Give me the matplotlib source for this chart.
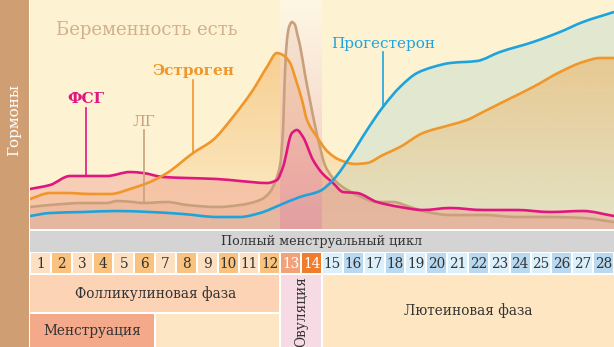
import numpy as np
import matplotlib
matplotlib.use("Agg")
import matplotlib.pyplot as plt
import matplotlib.colors as mcolors
from matplotlib.patches import Rectangle, PathPatch
from matplotlib.path import Path

plt.rcParams['font.family'] = ['DejaVu Serif']

# ---------------- data (x = cycle day position 0..28, y = relative level) -------------
fsh_x = [0.00, 0.96, 1.92, 2.73, 3.69, 4.79, 5.42, 6.38, 7.53, 8.97, 10.07, 11.36, 11.84,
         12.13, 12.56, 12.80, 13.09, 13.57, 14.00, 14.53, 15.01, 15.68, 16.64, 17.74,
         18.84, 20.14, 21.72, 23.35, 24.93, 26.51, 28.00]
fsh_y = [40, 44, 53, 53, 53, 57, 56, 52, 51, 50, 48, 46, 49,
         62, 96, 99, 92, 69, 56, 46, 37, 36, 27, 22,
         19, 21, 19, 19, 17, 18, 13]

est_x = [0.00, 0.96, 1.77, 2.88, 3.84, 4.94, 5.75, 6.57, 7.82, 8.77, 9.73, 10.69, 11.36,
         11.84, 12.13, 12.47, 12.75, 13.04, 13.28, 13.76, 14.29, 14.86, 15.58, 16.16,
         16.92, 17.74, 18.84, 20.14, 20.95, 21.72, 22.87, 24.12, 25.41, 26.51, 27.33, 28.00]
est_y = [30, 36, 36, 35, 35, 41, 47, 56, 76, 89, 112, 139, 162,
         176, 174, 166, 149, 129, 109, 92, 77, 69, 65, 66,
         74, 82, 96, 104, 109, 117, 129, 142, 157, 167, 171, 171]

lh_x = [0.00, 0.96, 2.54, 3.69, 4.17, 4.94, 5.42, 6.57, 7.53, 8.97, 10.07, 11.03, 11.51,
        11.79, 11.99, 12.13, 12.18, 12.23, 12.32, 12.42, 12.56, 12.71, 12.80, 12.94,
        13.19, 13.42, 13.66, 13.90, 14.14, 14.48, 14.86, 15.68, 16.64, 17.40, 18.22,
        19.03, 20.14, 21.72, 23.35, 24.93, 26.51, 28.00]
lh_y = [22, 24, 26, 26, 28, 27, 26, 27, 24, 22, 24, 29, 37,
        49, 64, 99, 129, 159, 189, 202, 207, 204, 196, 184,
        154, 129, 104, 82, 64, 52, 44, 34, 27, 27, 22,
        17, 14, 14, 12, 12, 11, 7]

prg_x = [0.00, 0.96, 2.54, 4.17, 5.75, 7.34, 8.97, 10.07, 11.03, 11.99, 12.94, 13.90,
         14.53, 15.34, 16.16, 16.92, 17.74, 18.56, 19.32, 20.14, 21.43, 22.53, 24.12,
         25.41, 26.51, 28.00]
prg_y = [13, 16, 17, 18, 17, 15, 12, 12, 16, 24, 32, 38,
         49, 72, 99, 122, 142, 156, 162, 166, 168, 177, 187,
         197, 207, 217]

days = list(range(1, 29))
cycle_title = "Полный менструальный цикл"
phase_days = {"Фолликулиновая фаза": (1, 12), "Овуляция": (13, 14),
              "Лютеиновая фаза": (15, 28), "Менструация": (1, 6)}
pregnancy_label = "Беременность есть"
y_label = "Гормоны"

# ---------------- styles ----------------
C_FSH = '#e0177f'
C_EST = '#f0962a'
C_LH = '#c9a07c'
C_PRG = '#1ea3dc'
BG = '#fdf3d2'

W, H = 614, 347
fig = plt.figure(figsize=(W / 100, H / 100), dpi=100)
fig.patch.set_facecolor('white')

# left strip
fig.patches.append(Rectangle((0, 0), 29 / W, 1, transform=fig.transFigure,
                             facecolor='#cf9e72', edgecolor='none'))
fig.text(14 / W, 1 - 120 / H, y_label, rotation=90, color='white', fontsize=11,
         ha='center', va='center')

# ---------------- chart ----------------
ax = fig.add_axes([30 / W, (H - 229) / H, 584 / W, 229 / H])
ax.set_facecolor(BG)
for s in ax.spines.values():
    s.set_visible(False)
ax.set_xticks([]); ax.set_yticks([])
YMAX = 229
ax.set_xlim(0, 28)
ax.set_ylim(0, YMAX)


def bezier_parts(x, y):
    """Smooth Bezier path through the data points (monotone cubic tangents)."""
    x = np.asarray(x, float); y = np.asarray(y, float)
    h = np.diff(x); d = np.diff(y) / h
    n = len(x)
    m = np.zeros(n)
    m[0], m[-1] = d[0], d[-1]
    for k in range(1, n - 1):
        if d[k - 1] * d[k] <= 0:
            m[k] = 0.0
        else:
            w1 = 2 * h[k] + h[k - 1]
            w2 = h[k] + 2 * h[k - 1]
            m[k] = (w1 + w2) / (w1 / d[k - 1] + w2 / d[k])
    verts = [(x[0], y[0])]
    codes = [Path.MOVETO]
    for k in range(n - 1):
        dx = h[k] / 3
        verts += [(x[k] + dx, y[k] + m[k] * dx), (x[k + 1] - dx, y[k + 1] - m[k + 1] * dx),
                  (x[k + 1], y[k + 1])]
        codes += [Path.CURVE4] * 3
    return verts, codes


def curve_path(x, y):
    v, c = bezier_parts(x, y)
    return Path(v, c)


def area_path(x, y):
    v, c = bezier_parts(x, y)
    v = v + [(x[-1], 0), (x[0], 0), (x[0], y[0])]
    c = c + [Path.LINETO, Path.LINETO, Path.CLOSEPOLY]
    return Path(v, c)


def solid_fill(x, y, color, alpha, z):
    ax.add_patch(PathPatch(area_path(x, y), facecolor=color, alpha=alpha,
                           edgecolor='none', zorder=z))


def gradient_fill(x, y, color, a_top, a_bot, z):
    path = area_path(x, y)
    rgb = mcolors.to_rgb(color)
    img = np.zeros((256, 1, 4))
    img[:, :, :3] = rgb
    img[:, 0, 3] = np.linspace(a_top, a_bot, 256)
    im = ax.imshow(img, extent=[min(x), max(x), 0, YMAX], origin='upper',
                   aspect='auto', zorder=z, interpolation='bilinear')
    im.set_clip_path(path, transform=ax.transData)


def line(x, y, color, z, lw=1.9):
    ax.add_patch(PathPatch(curve_path(x, y), facecolor='none', edgecolor=color,
                           lw=lw, zorder=z, capstyle='round', joinstyle='round'))


solid_fill(prg_x, prg_y, '#a9d3cc', 0.32, 1)
gradient_fill(est_x, est_y, '#f0a040', 0.55, 0.08, 2)
solid_fill(lh_x, lh_y, '#d9a77f', 0.28, 3)
solid_fill(fsh_x, fsh_y, '#ee8f88', 0.38, 4)

# ovulation band overlay
ov0, ov1 = phase_days["Овуляция"]
band = np.zeros((256, 1, 4))
top = np.array(mcolors.to_rgb('#ffffff'))
bot = np.array(mcolors.to_rgb('#e07aa0'))
t = np.linspace(0, 1, 256)[:, None]
band[:, 0, :3] = top * (1 - t) + bot * t
band[:, 0, 3] = np.linspace(0.38, 0.4, 256)
ax.imshow(band, extent=[ov0 - 1, ov1 - 0.03, 0, YMAX], origin='upper',
          aspect='auto', zorder=5, interpolation='bilinear')

line(lh_x, lh_y, C_LH, 6)
line(fsh_x, fsh_y, C_FSH, 7)
line(est_x, est_y, C_EST, 8)
line(prg_x, prg_y, C_PRG, 9)

# labels with leader lines
lbl = [("ФСГ", C_FSH, 2.69, 130, 121, 53, 'bold'),
       ("ЛГ", C_LH, 5.47, 107, 99, 27, 'normal'),
       ("Эстроген", C_EST, 7.82, 158, 149, 76, 'bold'),
       ("Прогестерон", C_PRG, 16.92, 185, 177, 122, 'normal')]
for text, c, xx, ty, l0, l1, wgt in lbl:
    ax.text(xx, ty, text, color=c, fontsize=11, fontweight=wgt, ha='center', va='center', zorder=10)
    ax.plot([xx, xx], [l0, l1], color=c, lw=1.2, zorder=10)

ax.text(5.61, 199, pregnancy_label, color='#d2b08e', fontsize=13, ha='center', va='center', zorder=10)
ax.set_xlim(0, 28)
ax.set_ylim(0, YMAX)

# ---------------- bottom table ----------------
bx = fig.add_axes([30 / W, 0, 584 / W, 118 / H])
bx.set_xlim(0, 28)
bx.set_ylim(118, 0)
bx.set_axis_off()
g = 0.05  # half gap in day units


def cell(x0, x1, y0, y1, color):
    bx.add_patch(Rectangle((x0, y0), x1 - x0, y1 - y0, facecolor=color, edgecolor='none'))


TXT = '#333333'
FS = 9.8
cell(0, 28, 2, 23, '#d4d4d4')
bx.text(14, 12.8, cycle_title, ha='center', va='center', fontsize=9.2, color=TXT)

for d in days:
    if d <= 12:
        col = '#fde0c2' if d % 2 else '#f9c27e'
        tc = TXT
    elif d == 13:
        col, tc = '#f2a27a', 'white'
    elif d == 14:
        col, tc = '#f07d2c', 'white'
    else:
        col = '#dcf0fb' if d % 2 else '#b8d9ef'
        tc = TXT
    cell(d - 1 + g, d - g, 24, 44, col)
    bx.text(d - 0.5, 34.5, str(d), ha='center', va='center', fontsize=9.8, color=tc)

f0, f1 = phase_days["Фолликулиновая фаза"]
cell(f0 - 1, f1 - g, 46, 83, '#fdd3b6')
bx.text((f0 - 1 + f1) / 2, 64.5, "Фолликулиновая фаза", ha='center', va='center', fontsize=FS, color=TXT)

cell(ov0 - 1 + g, ov1 - g, 46, 118, '#f6dbe5')
bx.text((ov0 - 1 + ov1) / 2, 83, "Овуляция", rotation=90, ha='center', va='center', fontsize=FS, color=TXT)

l0, l1 = phase_days["Лютеиновая фаза"]
cell(l0 - 1 + g, l1, 46, 118, '#fee6c3')
bx.text((l0 - 1 + l1) / 2, 82, "Лютеиновая фаза", ha='center', va='center', fontsize=FS, color=TXT)

m0, m1 = phase_days["Менструация"]
cell(m0 - 1, m1 - g, 85, 118, '#f4a98b')
bx.text((m0 - 1 + m1) / 2, 101.5, "Менструация", ha='center', va='center', fontsize=FS, color=TXT)
cell(m1 + g, f1 - g, 85, 118, '#fde6c4')

fig.savefig('out.png', dpi=100)
